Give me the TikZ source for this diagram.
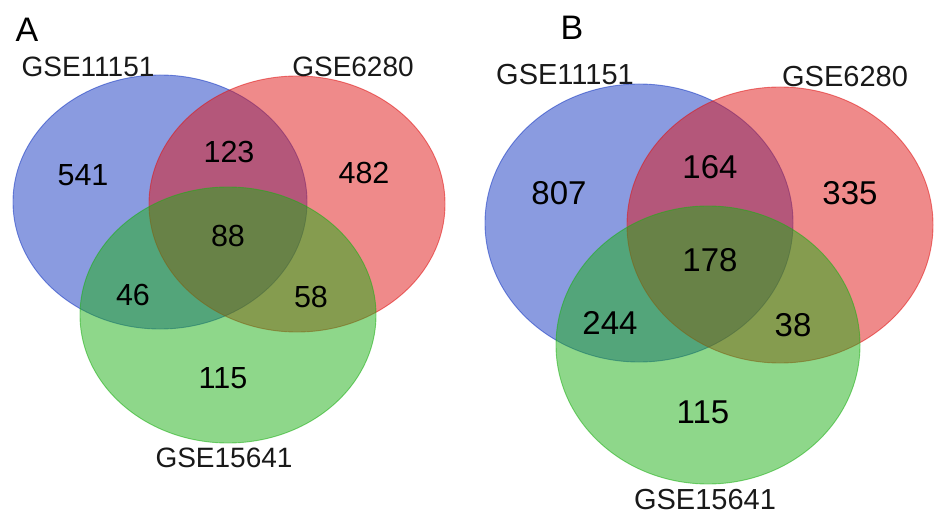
\documentclass[tikz,border=0pt]{standalone}
\usepackage{fontspec}
\setmainfont{Liberation Sans}
\definecolor{vblue}{RGB}{21,55,193}
\definecolor{vred}{RGB}{223,21,21}
\definecolor{vgreen}{RGB}{29,175,21}
\begin{document}
\begin{tikzpicture}[x=1pt,y=-1pt,
  setA/.style={fill=#1,fill opacity=0.5,draw=#1,draw opacity=0.55,line width=0.9pt},
  numA/.style={inner sep=0pt,font=\fontsize{30.5}{30}\selectfont,text=black},
  numB/.style={inner sep=0pt,font=\fontsize{33}{32}\selectfont,text=black},
  labA/.style={inner sep=0pt,font=\fontsize{28}{26}\selectfont,text=black!90},
  labB/.style={inner sep=0pt,font=\fontsize{29}{27}\selectfont,text=black!90},
  panel/.style={inner sep=0pt,font=\fontsize{34}{33}\selectfont}]
\useasboundingbox (0,0) rectangle (945,529);
% Panel A
\path[setA=vblue] (160,202) ellipse [x radius=147pt, y radius=127pt];
\path[setA=vred] (297,204) ellipse [x radius=148pt, y radius=128pt];
\path[setA=vgreen] (228,315) ellipse [x radius=148pt, y radius=128pt];
\node[panel] (pA) at (27,30) {A};
\node[labA] (a1) at (88,67) {GSE11151};
\node[labA] (a2) at (353,67) {GSE6280};
\node[labA] (a3) at (224,458) {GSE15641};
\node[numA] (an1) at (83,175) {541};
\node[numA] (an2) at (229,152) {123};
\node[numA] (an3) at (364,173) {482};
\node[numA] (an4) at (228,236) {88};
\node[numA] (an5) at (133,295) {46};
\node[numA] (an6) at (311,297) {58};
\node[numA] (an7) at (223,378) {115};
% Panel B
\path[setA=vblue] (639,223) ellipse [x radius=154pt, y radius=139pt];
\path[setA=vred] (780,225) ellipse [x radius=153pt, y radius=138pt];
\path[setA=vgreen] (708,345) ellipse [x radius=152pt, y radius=139pt];
\node[panel] (pB) at (572,28) {B};
\node[labB] (b1) at (565,75) {GSE11151};
\node[labB] (b2) at (845,77) {GSE6280};
\node[labB] (b3) at (705,500) {GSE15641};
\node[numB] (bn1) at (559,193) {807};
\node[numB] (bn2) at (710,167) {164};
\node[numB] (bn3) at (850,193) {335};
\node[numB] (bn4) at (710,260) {178};
\node[numB] (bn5) at (610,323) {244};
\node[numB] (bn6) at (793,325) {38};
\node[numB] (bn7) at (703,412) {115};
\end{tikzpicture}
\end{document}
